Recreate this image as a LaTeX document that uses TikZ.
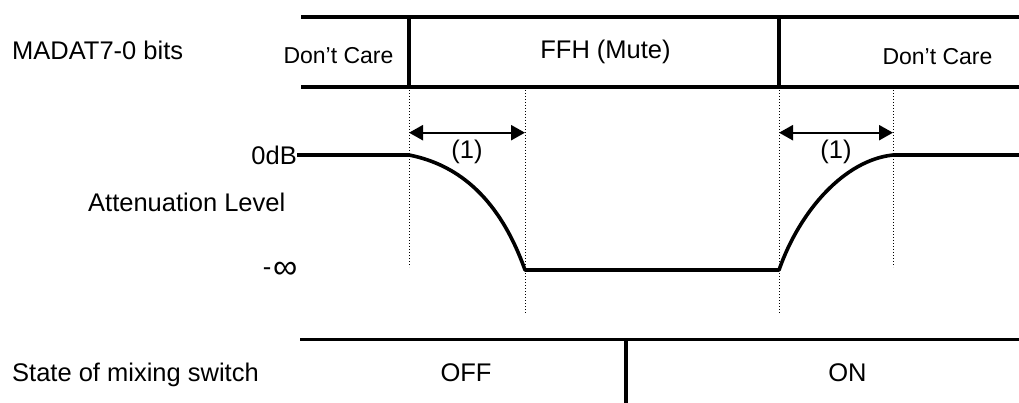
\documentclass[tikz,border=0pt]{standalone}
\usepackage{fontspec}
\setmainfont{Liberation Sans}
\usetikzlibrary{arrows.meta}
\begin{document}
\begin{tikzpicture}[x=1pt,y=-1pt,
  bus/.style={line width=3.6pt},
  wave/.style={line width=3.6pt, line join=round},
  guide/.style={line width=0.9pt, dash pattern=on 1pt off 2pt},
  dimline/.style={line width=2.3pt,
    {Triangle[length=14pt,width=15pt]}-{Triangle[length=14pt,width=15pt]}},
  lbl/.style={inner sep=0pt, font=\fontsize{25.5}{30}\selectfont},
  dc/.style={inner sep=0pt, font=\fontsize{23}{27}\selectfont}]
\useasboundingbox (0,0) rectangle (1019,403);

% key time instants
\coordinate (aT) at (409,0);
\coordinate (bT) at (525,0);
\coordinate (cT) at (779,0);
\coordinate (dT) at (893,0);

% MADAT bus
\draw[bus] (301,17) -- (1019,17);
\draw[bus] (301,87) -- (1019,87);
\draw[bus] (aT |- 0,17) -- (aT |- 0,87);
\draw[bus] (cT |- 0,17) -- (cT |- 0,87);
\node[lbl, anchor=base west] (madat) at (12,59.3) {MADAT7-0 bits};
\node[dc, anchor=base] (dc1) at (338.5,63.3) {Don’t Care};
\node[lbl, anchor=base] (ffh) at (605.5,58.3) {FFH (Mute)};
\node[dc, anchor=base] (dc2) at (937.5,65) {Don’t Care};

% guide lines
\draw[guide] (aT |- 0,87) -- (aT |- 0,267);
\draw[guide] (bT |- 0,87) -- (bT |- 0,313);
\draw[guide] (cT |- 0,87) -- (cT |- 0,313);
\draw[guide] (dT |- 0,87) -- (dT |- 0,267);

% attenuation level
\node[lbl, anchor=east] (zero) at (297,155) {0dB};
\node[lbl, anchor=base west] (att) at (88,211.7) {Attenuation Level};
\node[inner sep=0pt, font=\fontsize{34}{34}\selectfont, anchor=east] (minf) at (297.5,270) {∞};
\node[lbl, anchor=base east] (mdash) at (271.5,275.5) {-};
\draw[wave] (zero.east) -- (409,155)
  .. controls (460,165) and (500,200) .. (525,270)
  -- (779,270)
  .. controls (800,210) and (845,160) .. (893,155)
  -- (1019,155);

% transition times
\coordinate (a1) at (409,132.7);
\coordinate (b1) at (525,132.7);
\coordinate (c1) at (779,132.7);
\coordinate (d1) at (893,132.7);
\draw[dimline] (a1) -- (b1);
\draw[dimline] (c1) -- (d1);
\node[lbl] (t1) at (467,152) {(1)};
\node[lbl] (t2) at (836,152) {(1)};

% mixing switch
\draw[bus] (300,339.5) -- (1019,339.5);
\draw[bus] (626,339.5) -- (626,403);
\node[lbl, anchor=base west] (state) at (12,381.7) {State of mixing switch};
\node[lbl, anchor=base] (off) at (466,381.7) {OFF};
\node[lbl, anchor=base] (on) at (847.5,381.7) {ON};
\end{tikzpicture}
\end{document}
